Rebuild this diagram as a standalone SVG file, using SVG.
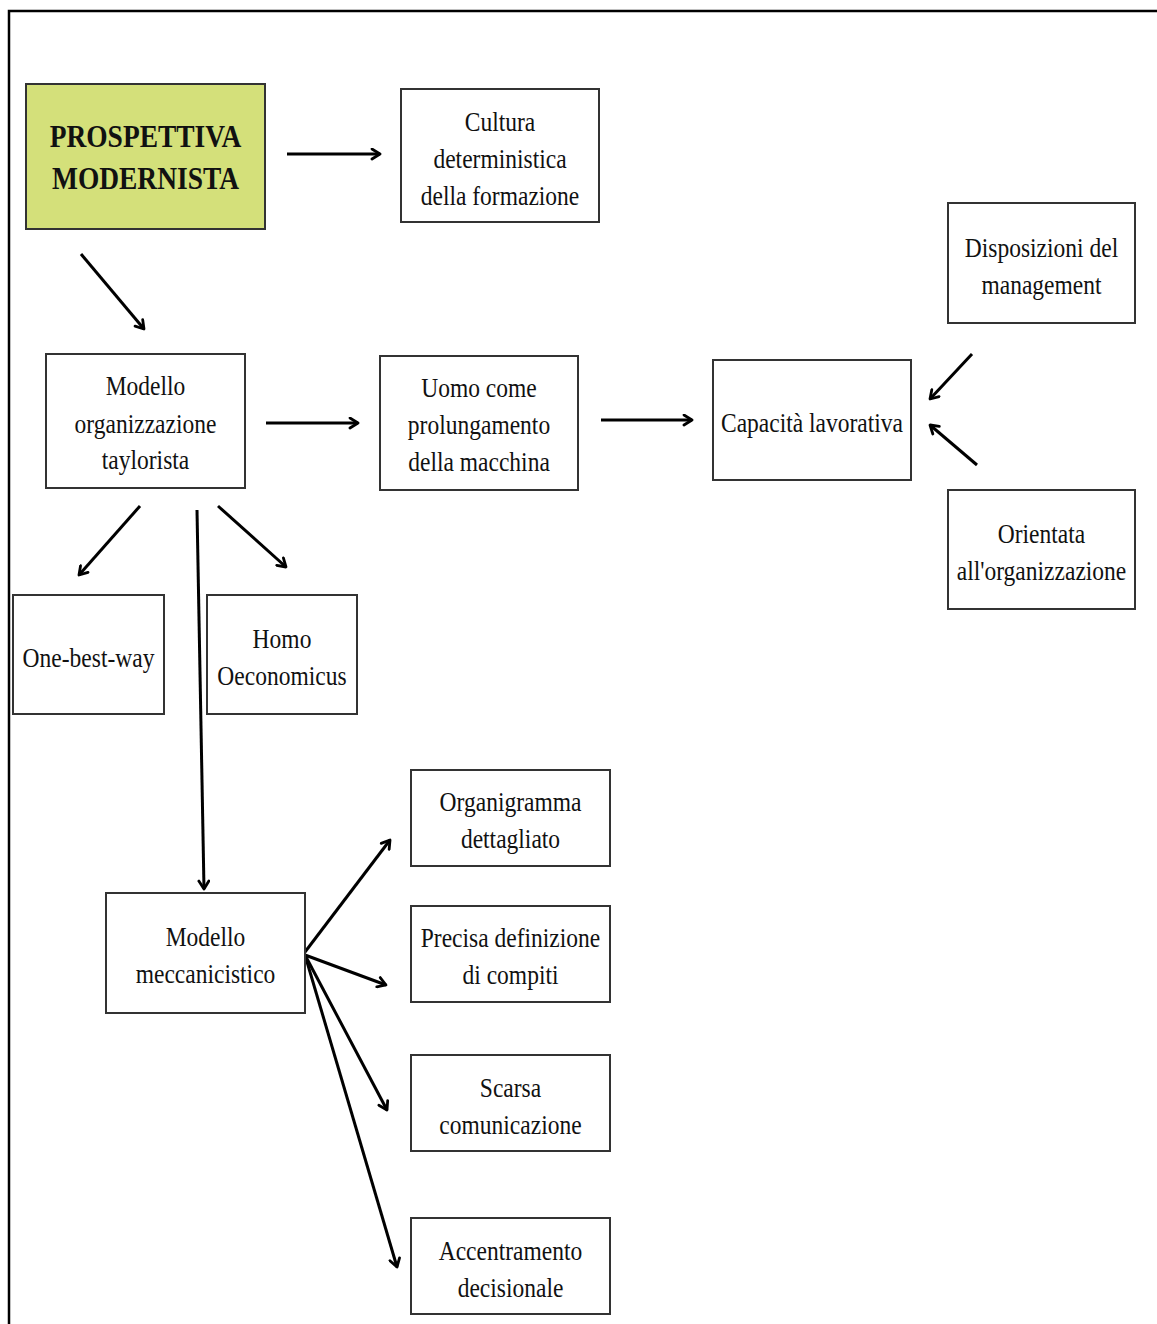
<svg xmlns="http://www.w3.org/2000/svg" width="1157" height="1324" viewBox="0 0 1157 1324">
<style>
.box{fill:#fff;stroke:#333;stroke-width:2}
.hl{fill:#d4e07a}
text{font-family:"Liberation Serif","Times New Roman",serif;font-size:28px;fill:#111;text-anchor:middle}
.bold{font-weight:bold;font-size:31px}
.conn{stroke:#000;stroke-width:3;fill:none;marker-end:url(#arr)}
</style>
<defs>
<marker id="arr" viewBox="0 0 13 13" refX="11" refY="6.5" markerWidth="13" markerHeight="13" markerUnits="userSpaceOnUse" orient="auto">
<path d="M3,1.5 L11,6.5 L3,11.5" fill="none" stroke="#000" stroke-width="2.8" stroke-linecap="round" stroke-linejoin="round"/>
</marker>
</defs>
<rect width="1157" height="1324" fill="#fff"/>
<path d="M9,1324 V11 H1157" fill="none" stroke="#000" stroke-width="2.5"/>

<g id="connectors">
<line class="conn" x1="287" y1="154" x2="380" y2="154"/>
<line class="conn" x1="81" y1="254" x2="144" y2="329"/>
<line class="conn" x1="266" y1="423" x2="358" y2="423"/>
<line class="conn" x1="601" y1="420" x2="692" y2="420"/>
<line class="conn" x1="972" y1="354" x2="930" y2="399"/>
<line class="conn" x1="977" y1="465" x2="930" y2="425"/>
<line class="conn" x1="140" y1="506" x2="79" y2="575"/>
<line class="conn" x1="218" y1="506" x2="286" y2="567"/>
<line class="conn" x1="197" y1="510" x2="204" y2="889"/>
<line class="conn" x1="305" y1="952" x2="390" y2="840"/>
<line class="conn" x1="305" y1="955" x2="386" y2="985"/>
<line class="conn" x1="305" y1="955" x2="387" y2="1110"/>
<line class="conn" x1="305" y1="955" x2="397" y2="1267"/>
</g>

<g id="prospettiva">
<rect class="box hl" x="26" y="84" width="239" height="145"/>
<text class="bold" transform="translate(145.5,147) scale(0.885,1)">PROSPETTIVA</text>
<text class="bold" transform="translate(145.5,189) scale(0.885,1)">MODERNISTA</text>
</g>
<g id="cultura">
<rect class="box" x="401" y="89" width="198" height="133"/>
<text transform="translate(500,131) scale(0.84,1)">Cultura</text>
<text transform="translate(500,168) scale(0.84,1)">deterministica</text>
<text transform="translate(500,205) scale(0.84,1)">della formazione</text>
</g>
<g id="taylorista">
<rect class="box" x="46" y="354" width="199" height="134"/>
<text transform="translate(145.5,395) scale(0.84,1)">Modello</text>
<text transform="translate(145.5,433) scale(0.84,1)">organizzazione</text>
<text transform="translate(145.5,469) scale(0.84,1)">taylorista</text>
</g>
<g id="uomo">
<rect class="box" x="380" y="356" width="198" height="134"/>
<text transform="translate(479,397) scale(0.84,1)">Uomo come</text>
<text transform="translate(479,434) scale(0.84,1)">prolungamento</text>
<text transform="translate(479,471) scale(0.84,1)">della macchina</text>
</g>
<g id="capacita">
<rect class="box" x="713" y="360" width="198" height="120"/>
<text transform="translate(812,432) scale(0.84,1)">Capacità lavorativa</text>
</g>
<g id="disposizioni">
<rect class="box" x="948" y="203" width="187" height="120"/>
<text transform="translate(1041.5,257) scale(0.84,1)">Disposizioni del</text>
<text transform="translate(1041.5,294) scale(0.84,1)">management</text>
</g>
<g id="orientata">
<rect class="box" x="948" y="490" width="187" height="119"/>
<text transform="translate(1041.5,543) scale(0.84,1)">Orientata</text>
<text transform="translate(1041.5,580) scale(0.84,1)">all'organizzazione</text>
</g>
<g id="onebestway">
<rect class="box" x="13" y="595" width="151" height="119"/>
<text transform="translate(88.5,667) scale(0.84,1)">One-best-way</text>
</g>
<g id="homo">
<rect class="box" x="207" y="595" width="150" height="119"/>
<text transform="translate(282,648) scale(0.84,1)">Homo</text>
<text transform="translate(282,685) scale(0.84,1)">Oeconomicus</text>
</g>
<g id="meccanicistico">
<rect class="box" x="106" y="893" width="199" height="120"/>
<text transform="translate(205.5,946) scale(0.84,1)">Modello</text>
<text transform="translate(205.5,983) scale(0.84,1)">meccanicistico</text>
</g>
<g id="organigramma">
<rect class="box" x="411" y="770" width="199" height="96"/>
<text transform="translate(510.5,811) scale(0.84,1)">Organigramma</text>
<text transform="translate(510.5,848) scale(0.84,1)">dettagliato</text>
</g>
<g id="precisa">
<rect class="box" x="411" y="906" width="199" height="96"/>
<text transform="translate(510.5,947) scale(0.84,1)">Precisa definizione</text>
<text transform="translate(510.5,984) scale(0.84,1)">di compiti</text>
</g>
<g id="scarsa">
<rect class="box" x="411" y="1055" width="199" height="96"/>
<text transform="translate(510.5,1097) scale(0.84,1)">Scarsa</text>
<text transform="translate(510.5,1134) scale(0.84,1)">comunicazione</text>
</g>
<g id="accentramento">
<rect class="box" x="411" y="1218" width="199" height="96"/>
<text transform="translate(510.5,1260) scale(0.84,1)">Accentramento</text>
<text transform="translate(510.5,1297) scale(0.84,1)">decisionale</text>
</g>
</svg>
